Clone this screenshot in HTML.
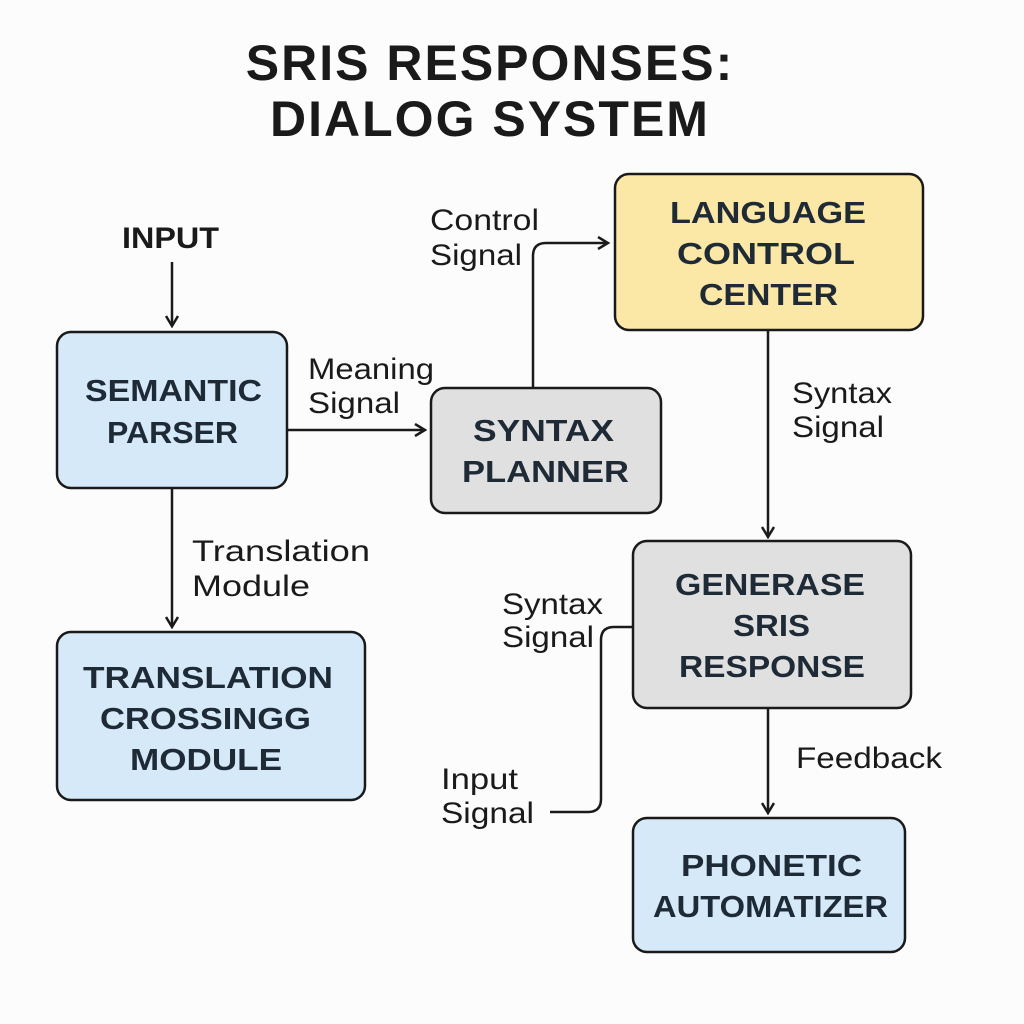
<!DOCTYPE html>
<html><head><meta charset="utf-8"><style>
body{margin:0;background:#fcfcfc;}
svg{display:block}
.t{font-family:"Liberation Sans",sans-serif;font-weight:bold;fill:#1a1a1a}
.l{font-family:"Liberation Sans",sans-serif;fill:#1a1a1a;font-size:30px}
.b{font-family:"Liberation Sans",sans-serif;font-weight:bold;fill:#1e2a35;font-size:31px}
</style></head><body>
<svg width="1024" height="1024" viewBox="0 0 1024 1024">
<defs><marker id="a" markerWidth="14" markerHeight="14" refX="11" refY="7" orient="auto" markerUnits="userSpaceOnUse"><path d="M2,1 L12,7 L2,13" fill="none" stroke="#1a1a1a" stroke-width="2.5"/></marker></defs>
<rect width="1024" height="1024" fill="#fcfcfc"/>
<text class="t" x="490" y="80" font-size="50" text-anchor="middle" letter-spacing="2">SRIS RESPONSES:</text>
<text class="t" x="490" y="136" font-size="50" text-anchor="middle" letter-spacing="2">DIALOG SYSTEM</text>

<g stroke="#1a1a1a" stroke-width="2.5">
<rect x="57" y="332" width="230" height="156" rx="14" fill="#d5e9f8"/>
<rect x="431" y="388" width="230" height="125" rx="14" fill="#e0e0e0"/>
<rect x="615" y="174" width="308" height="156" rx="14" fill="#fce8a6"/>
<rect x="633" y="541" width="278" height="167" rx="14" fill="#e0e0e0"/>
<rect x="57" y="632" width="308" height="168" rx="14" fill="#d5e9f8"/>
<rect x="633" y="818" width="272" height="134" rx="14" fill="#d5e9f8"/>
</g>
<g fill="none" stroke="#1a1a1a" stroke-width="2.5">
<line x1="172" y1="262" x2="172" y2="325" marker-end="url(#a)"/>
<line x1="287" y1="430" x2="424" y2="430" marker-end="url(#a)"/>
<path d="M533,388 V256 Q533,243 546,243 H607" marker-end="url(#a)"/>
<line x1="768" y1="330" x2="768" y2="536" marker-end="url(#a)"/>
<line x1="172" y1="488" x2="172" y2="626" marker-end="url(#a)"/>
<line x1="768" y1="708" x2="768" y2="812" marker-end="url(#a)"/>
<path d="M550,812 H588 Q601,812 601,799 V640 Q601,627 614,627 H633"/>
</g>
<g lengthAdjust="spacingAndGlyphs">
<text class="l" x="122" y="248" style="font-weight:bold" textLength="97" lengthAdjust="spacingAndGlyphs">INPUT</text>
<text class="l" x="308" y="379" textLength="126" lengthAdjust="spacingAndGlyphs">Meaning</text><text class="l" x="308" y="413" textLength="92" lengthAdjust="spacingAndGlyphs">Signal</text>
<text class="l" x="430" y="230" textLength="109" lengthAdjust="spacingAndGlyphs">Control</text><text class="l" x="430" y="265" textLength="92" lengthAdjust="spacingAndGlyphs">Signal</text>
<text class="l" x="792" y="403" textLength="100" lengthAdjust="spacingAndGlyphs">Syntax</text><text class="l" x="792" y="437" textLength="92" lengthAdjust="spacingAndGlyphs">Signal</text>
<text class="l" x="192" y="561" textLength="178" lengthAdjust="spacingAndGlyphs">Translation</text><text class="l" x="192" y="596" textLength="118" lengthAdjust="spacingAndGlyphs">Module</text>
<text class="l" x="502" y="614" textLength="101" lengthAdjust="spacingAndGlyphs">Syntax</text><text class="l" x="502" y="647" textLength="92" lengthAdjust="spacingAndGlyphs">Signal</text>
<text class="l" x="441" y="789" textLength="77" lengthAdjust="spacingAndGlyphs">Input</text><text class="l" x="441" y="823" textLength="93" lengthAdjust="spacingAndGlyphs">Signal</text>
<text class="l" x="796" y="768" textLength="146" lengthAdjust="spacingAndGlyphs">Feedback</text>

<text class="b" x="85" y="401" textLength="177" lengthAdjust="spacingAndGlyphs">SEMANTIC</text><text class="b" x="107" y="443" textLength="131" lengthAdjust="spacingAndGlyphs">PARSER</text>
<text class="b" x="473" y="441" textLength="141" lengthAdjust="spacingAndGlyphs">SYNTAX</text><text class="b" x="462" y="482" textLength="167" lengthAdjust="spacingAndGlyphs">PLANNER</text>
<text class="b" x="670" y="223" textLength="196" lengthAdjust="spacingAndGlyphs">LANGUAGE</text><text class="b" x="677" y="264" textLength="178" lengthAdjust="spacingAndGlyphs">CONTROL</text><text class="b" x="699" y="305" textLength="139" lengthAdjust="spacingAndGlyphs">CENTER</text>
<text class="b" x="675" y="595" textLength="190" lengthAdjust="spacingAndGlyphs">GENERASE</text><text class="b" x="733" y="636" textLength="77" lengthAdjust="spacingAndGlyphs">SRIS</text><text class="b" x="679" y="677" textLength="186" lengthAdjust="spacingAndGlyphs">RESPONSE</text>
<text class="b" x="83" y="688" textLength="250" lengthAdjust="spacingAndGlyphs">TRANSLATION</text><text class="b" x="100" y="729" textLength="211" lengthAdjust="spacingAndGlyphs">CROSSINGG</text><text class="b" x="130" y="770" textLength="152" lengthAdjust="spacingAndGlyphs">MODULE</text>
<text class="b" x="681" y="876" textLength="181" lengthAdjust="spacingAndGlyphs">PHONETIC</text><text class="b" x="653" y="917" textLength="235" lengthAdjust="spacingAndGlyphs">AUTOMATIZER</text>
</g>
</svg>
</body></html>
